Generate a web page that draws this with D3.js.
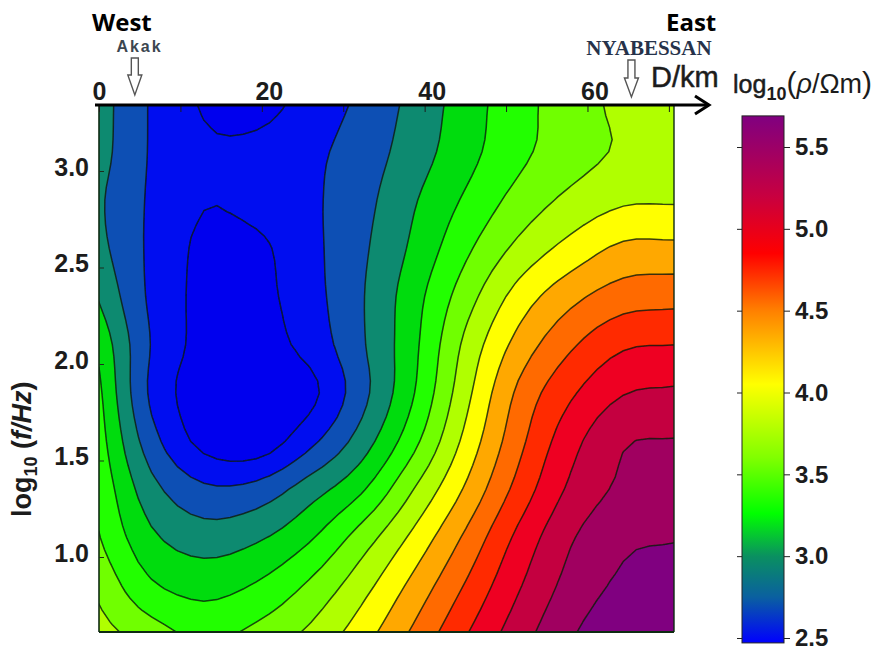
<!DOCTYPE html>
<html><head><meta charset="utf-8">
<script src="https://cdn.jsdelivr.net/npm/d3@7"></script>
<style>
html,body{margin:0;padding:0;background:#fff}
svg{display:block;font-family:"Liberation Sans",Arial,sans-serif}
text{fill:#1c1c1c}
</style></head><body>
<svg id="c" width="877" height="650"></svg>
<script>
// Data: log10(rho) on a D / log10(f) grid
const distanceKm = [0,6.44,12.87,19.31,25.74,32.18,38.62,45.05,51.49,57.93,64.36,70.8];
const logFreq = [3.35,3.10,2.85,2.60,2.35,2.10,1.85,1.60,1.35,1.10,0.85,0.60];
const row335 = [2.99,2.68,2.48,2.42,2.58,2.74,2.96,3.20,3.43,3.60,3.75,3.80];
const row310 = [2.98,2.68,2.53,2.55,2.65,2.79,3.00,3.23,3.45,3.61,3.73,3.82];
const row285 = [2.93,2.67,2.51,2.56,2.66,2.83,3.08,3.33,3.57,3.75,3.87,3.88];
const row260 = [2.96,2.66,2.46,2.46,2.64,2.86,3.14,3.46,3.75,3.97,4.14,4.15];
const row235 = [3.08,2.66,2.45,2.44,2.62,2.88,3.22,3.61,3.98,4.24,4.40,4.43];
const row210 = [3.25,2.69,2.44,2.41,2.57,2.87,3.25,3.75,4.17,4.47,4.67,4.70];
const row185 = [3.34,2.66,2.40,2.36,2.44,2.83,3.29,3.84,4.34,4.67,4.89,4.93];
const row160 = [3.39,2.78,2.44,2.38,2.64,2.99,3.44,3.96,4.44,4.83,5.08,5.11];
const row135 = [3.45,2.97,2.74,2.77,3.00,3.27,3.70,4.13,4.57,4.94,5.14,5.20];
const row110 = [3.51,3.14,3.00,3.07,3.27,3.59,3.95,4.34,4.75,5.08,5.26,5.29];
const row085 = [3.65,3.33,3.23,3.32,3.53,3.82,4.16,4.52,4.88,5.17,5.34,5.39];
const row060 = [3.78,3.60,3.45,3.56,3.74,4.01,4.34,4.69,5.01,5.28,5.45,5.48];
const rows = [row335,row310,row285,row260,row235,row210,row185,row160,row135,row110,row085,row060];
const levels = [2.5,2.7,2.9,3.1,3.3,3.5,3.7,3.9,4.1,4.3,4.5,4.7,4.9,5.1,5.3];
const bandColors = ["#0000ee","#0008f0","#0a50b4","#0a8a70","#00dc10","#20ff00","#70ff00","#b0ff00","#ffff00","#ffa800","#ff6a00","#ff2a00","#ee0020","#c40040","#a00060","#800080"];
const barStops = [2.47,2.75,3.0,3.26,3.6,4.05,4.5,4.85,5.2,5.69];
const barColors = ["#0000ff","#0a60a0","#0a9060","#00ff00","#80ff00","#ffff00","#ff8000","#ff0000","#c80040","#800080"];
const xTicks = [0,10,20,30,40,50,60,70];
const xLabels = [0,20,40,60];
const yTicks = [3.0,2.5,2.0,1.5,1.0];
const barTicks = [5.5,5.0,4.5,4.0,3.5,3.0,2.5];
const sites = [{name:"Akak",km:4.4},{name:"NYABESSAN",km:65.4}];

const svg = d3.select("#c");
const x = d3.scaleLinear().domain([0,70.8]).range([99,675.4]);
const y = d3.scaleLinear().domain([3,1]).range([171,557]);
const bar = d3.scaleLinear().domain([2.5,5.5]).range([638,147]);
const L=x(0), R=674, T=105, B=632;

const defs = svg.append("defs");
defs.append("clipPath").attr("id","plot").append("rect").attr("x",L).attr("y",T).attr("width",R-L).attr("height",B-T);
const blur = defs.append("filter").attr("id","soft").attr("x","-2%").attr("y","-2%").attr("width","104%").attr("height","104%");
blur.append("feGaussianBlur").attr("stdDeviation",0.45);

// smooth resampling of the read grid for the contouring (as a gridding package would)
const K = 4;
function cr(a,t){
  const n=a.length-1, s=Math.min(Math.floor(t),n-1), u=t-s;
  const p1=a[s], p2=a[s+1], p0=s>0?a[s-1]:2*p1-p2, p3=s+2<=n?a[s+2]:2*p2-p1;
  return 0.5*((2*p1)+(p2-p0)*u+(2*p0-5*p1+4*p2-p3)*u*u+(3*p1-p0-3*p2+p3)*u*u*u);
}
const nx0 = distanceKm.length, ny0 = logFreq.length;
const nx = (nx0-1)*K+1, ny = (ny0-1)*K+1;
const flat = [];
for(let j=0;j<ny;j++){
  const t=j/K;
  const col=d3.range(nx0).map(i=>cr(rows.map(r=>r[i]),t));
  for(let i=0;i<nx;i++) flat.push(cr(col,i/K));
}
const stepX = (distanceKm[1]-distanceKm[0])/K, stepY = (logFreq[0]-logFreq[1])/K;
const gen = d3.contours().size([nx,ny]).smooth(true).thresholds([1.5].concat(levels));
const polys = gen(flat);
const project = d3.geoTransform({point(px,py){
  this.stream.point(x((px-0.5)*stepX), y(logFreq[0]-(py-0.5)*stepY));
}});
const path = d3.geoPath(project);
const field = svg.append("g").attr("clip-path","url(#plot)").append("g").attr("filter","url(#soft)");
field.selectAll("path.band").data(polys).join("path").attr("class","band")
  .attr("d",path).attr("fill",(d,i)=>bandColors[i]).attr("stroke","none");
field.selectAll("path.line").data(polys.slice(1)).join("path").attr("class","line")
  .attr("d",path).attr("fill","none").attr("stroke","#0a1a0a").attr("stroke-opacity",0.8).attr("stroke-width",1.5);

// frame
const frame = svg.append("g").attr("fill","none").attr("stroke","#0e2a12");
frame.append("line").attr("x1",L).attr("x2",L).attr("y1",T).attr("y2",B).attr("stroke-width",1.6);
frame.append("line").attr("x1",R).attr("x2",R).attr("y1",T).attr("y2",B).attr("stroke-width",1.4);
frame.append("line").attr("x1",L).attr("x2",R).attr("y1",B).attr("y2",B).attr("stroke-width",2);

// axes
const xAxis = d3.axisTop(x).tickValues(xTicks).tickSize(-7).tickPadding(5)
  .tickFormat(d=>xLabels.includes(d)?d:"");
const gx = svg.append("g").attr("transform",`translate(0,${T})`).call(xAxis);
gx.select(".domain").remove();
gx.selectAll("text").attr("font-size",25).attr("font-weight","bold").attr("font-family","Liberation Sans").attr("dx",d=>d===0?0:7);
gx.selectAll("line").attr("stroke","#1c1c1c");
const yAxis = d3.axisLeft(y).tickValues(yTicks).tickSize(-5).tickPadding(10).tickFormat(d3.format(".1f"));
const gy = svg.append("g").attr("transform",`translate(${L},0)`).call(yAxis);
gy.select(".domain").remove();
gy.selectAll("text").attr("font-size",25).attr("font-weight","bold").attr("font-family","Liberation Sans").attr("dy","0.16em");
gy.selectAll("line").attr("stroke","#1c2c1c");

// arrow axis line
svg.append("line").attr("x1",95).attr("x2",709).attr("y1",T).attr("y2",T).attr("stroke","#000").attr("stroke-width",3);
svg.append("path").attr("d",`M695,${T-9}L709,${T}L695,${T+9}`).attr("fill","none").attr("stroke","#000").attr("stroke-width",3);

// site arrows
sites.forEach((s,i)=>{
  const cx=x(s.km), top=i?60:58, neck=i?78:75, tip=i?97:95;
  svg.append("path").attr("d",`M${cx-3.5},${top}H${cx+3.5}V${neck}H${cx+7}L${cx},${tip}L${cx-7},${neck}H${cx-3.5}Z`)
    .attr("fill","#fff").attr("stroke","#555").attr("stroke-width",1.4);
});
svg.append("text").attr("x",139.5).attr("y",52).attr("text-anchor","middle").attr("font-size",16).attr("letter-spacing",2).attr("font-weight","bold").style("fill","#3c4650").text(sites[0].name);
svg.append("text").attr("x",649).attr("y",55).attr("text-anchor","middle").attr("font-family","Liberation Serif").attr("font-size",21).attr("font-weight","bold").style("fill","#26324a").text(sites[1].name);
svg.append("text").attr("x",92).attr("y",31).attr("font-family","Open Sans").attr("font-size",24).attr("font-weight","bold").style("fill","#000").text("West");
svg.append("text").attr("x",666).attr("y",31).attr("font-family","Open Sans").attr("font-size",24).attr("font-weight","bold").style("fill","#000").text("East");
svg.append("text").attr("x",651).attr("y",87).attr("font-size",29).attr("stroke","#1c1c1c").attr("stroke-width",0.5).text("D/km");

// y title
const yt = svg.append("text").attr("transform","translate(31,517) rotate(-90)").attr("font-size",27).attr("font-weight","bold");
yt.append("tspan").text("log");
yt.append("tspan").attr("font-size",18).attr("dy",6).text("10");
yt.append("tspan").attr("dy",-6).text(" (");
yt.append("tspan").attr("font-style","italic").text("f/Hz");
yt.append("tspan").text(")");

// colour bar title
const ct = svg.append("text").attr("x",733).attr("y",93).attr("font-size",25);
ct.append("tspan").attr("stroke","#1c1c1c").attr("stroke-width",0.5).text("log");
ct.append("tspan").attr("font-size",18).attr("font-weight","bold").attr("dy",7).text("10");
ct.append("tspan").attr("dy",-7).attr("font-size",30).text("(");
ct.append("tspan").attr("font-style","italic").attr("font-size",27).text("ρ");
ct.append("tspan").attr("font-size",27).text("/Ωm");
ct.append("tspan").attr("font-size",30).text(")");

// colour bar
const grad = defs.append("linearGradient").attr("id","bar").attr("x1",0).attr("x2",0).attr("y1",1).attr("y2",0);
const barDom = d3.extent(barStops);
barStops.forEach((v,i)=>grad.append("stop").attr("offset",(v-barDom[0])/(barDom[1]-barDom[0])).attr("stop-color",barColors[i]));
svg.append("rect").attr("x",742).attr("width",42).attr("y",bar(barDom[1])).attr("height",bar(barDom[0])-bar(barDom[1]))
  .attr("fill","url(#bar)").attr("stroke","#222").attr("stroke-width",1);
const gb = svg.append("g").attr("transform","translate(784,0)").call(d3.axisRight(bar).tickValues(barTicks).tickSize(6).tickPadding(5).tickFormat(d3.format(".1f")));
gb.select(".domain").remove();
gb.selectAll("text").attr("font-size",24).attr("font-weight","bold").attr("font-family","Liberation Sans");
gb.selectAll("line").attr("stroke","#222");
const gb2 = svg.append("g").attr("transform","translate(742,0)").call(d3.axisLeft(bar).tickValues(barTicks).tickSize(5).tickFormat(""));
gb2.select(".domain").remove();
gb2.selectAll("line").attr("stroke","#222");
</script>
</body></html>
